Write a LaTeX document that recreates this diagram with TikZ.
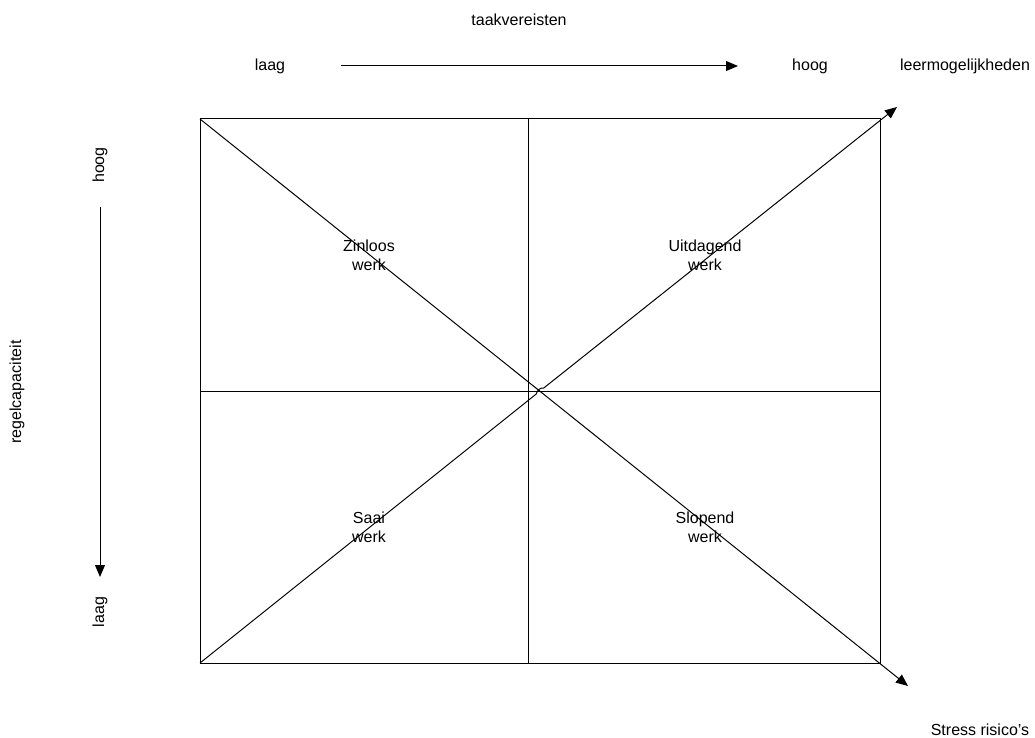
\documentclass[tikz,border=0pt]{standalone}
\usepackage{fontspec}
\setmainfont{Liberation Sans}
\usepackage{tikz}
\usetikzlibrary{arrows.meta,calc}

\begin{document}
\begin{tikzpicture}[x=0.75pt,y=-0.75pt,line width=0.75pt,
  every node/.style={font=\fontsize{12}{14}\selectfont,inner sep=0pt},
  pijl/.style={-{Triangle[length=9pt,width=7.5pt]}}]
\useasboundingbox (0,0) rectangle (1035,738);

\coordinate (tl) at (200,119);
\coordinate (tr) at (880,119);
\coordinate (bl) at (200,663);
\coordinate (br) at (880,663);
\coordinate (c) at (540,391);
\coordinate (ml) at (200,391);
\coordinate (mr) at (880,391);
\coordinate (mt) at (528,119);
\coordinate (mb) at (528,663);

\draw (tl) rectangle (br);
\draw (mt) -- (mb);
\draw (ml) -- (mr);

\coordinate (leer) at (897,107);
\coordinate (stress) at (908,686);
\draw[pijl] (tl) -- (stress);
\draw[pijl] (bl) -- ($(c)!3.5pt!(bl)$) to[out=80,in=170] ($(c)!3.5pt!(leer)$) -- (leer);

\node (zinloos) at (369,255) [align=center] {Zinloos\\werk};
\node (uitdagend) at (705,255) [align=center] {Uitdagend\\werk};
\node (saai) at (369,527) [align=center] {Saai\\werk};
\node (slopend) at (705,527) [align=center] {Slopend\\werk};

\node (taak) at (519,20) {taakvereisten};
\node (laagx) at (270,66) {laag};
\node (hoogx) at (810,66) {hoog};
\node (leermog) at (965,66) {leermogelijkheden};
\coordinate (ax1) at (341,66);
\coordinate (ax2) at (738,66);
\draw[pijl] (ax1) -- (ax2);

\node (hoogy) at (100,165) [rotate=90] {hoog};
\node (laagy) at (100,612) [rotate=90] {laag};
\node (regel) at (17,392) [rotate=90] {regelcapaciteit};
\coordinate (ay1) at (100,207);
\coordinate (ay2) at (100,577);
\draw[pijl] (ay1) -- (ay2);

\node (risico) at (980,730) {Stress risico’s};
\end{tikzpicture}
\end{document}
